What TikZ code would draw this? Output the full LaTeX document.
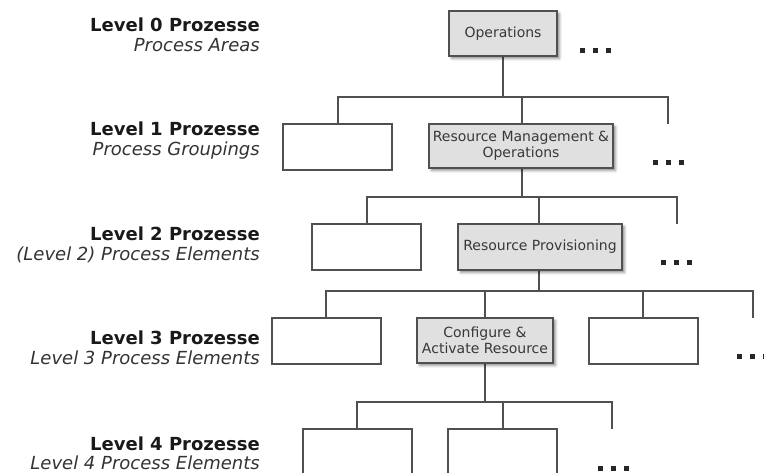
\documentclass[tikz,border=0pt]{standalone}
\usepackage{fontspec}
\setmainfont{DejaVu Sans}
\usetikzlibrary{shadows.blur}
\definecolor{linegray}{HTML}{505050}
\definecolor{boxfill}{HTML}{E0E0E0}
\definecolor{boxtext}{HTML}{383838}
\definecolor{subtext}{HTML}{333333}
\tikzset{
  procbox/.style={draw=linegray, line width=1.3pt, fill=boxfill, text=boxtext,
    align=center, inner sep=1pt, font=\fontsize{14}{16.5}\selectfont,
    blur shadow={shadow xshift=2.5pt, shadow yshift=-2.5pt, shadow blur radius=2.5pt, shadow opacity=45}},
  emptybox/.style={draw=linegray, line width=1.2pt, fill=white, inner sep=0pt},
  link/.style={draw=linegray, line width=1.1pt},
  lvltitle/.style={anchor=base east, inner sep=0pt, font=\fontsize{18}{20}\selectfont\bfseries, text=black!90},
  lvlsub/.style={anchor=base east, inner sep=0pt, font=\fontsize{18}{20}\selectfont\itshape, text=subtext},
  dotsq/.style={fill=black!85, draw=none, minimum size=5pt, inner sep=0pt}
}
% three square dots starting at a given left x, centred on a given y
\newcommand\tridots[3]{%
  \foreach \k in {0,1,2}{\node[dotsq] (#1-\k) at ({#2+2.5+\k*12.8},#3) {};}}
\begin{document}
\begin{tikzpicture}[x=1pt,y=-1pt]
\useasboundingbox (0,0) rectangle (764,473);
\clip (0,0) rectangle (764,473);

% level captions
\node[lvltitle] (t0) at (260,32) {Level 0 Prozesse};
\node[lvlsub]   (s0) at (260,51.5) {Process Areas};
\node[lvltitle] (t1) at (260,136) {Level 1 Prozesse};
\node[lvlsub]   (s1) at (260,155.5) {Process Groupings};
\node[lvltitle] (t2) at (260,241) {Level 2 Prozesse};
\node[lvlsub]   (s2) at (260,260.5) {(Level 2) Process Elements};
\node[lvltitle] (t3) at (260,345) {Level 3 Prozesse};
\node[lvlsub]   (s3) at (260,364.5) {Level 3 Process Elements};
\node[lvltitle] (t4) at (260,450) {Level 4 Prozesse};
\node[lvlsub]   (s4) at (260,469.5) {Level 4 Process Elements};

% junction points and open stubs
\coordinate (j0) at (503,97);
\coordinate (j1) at (522,197);
\coordinate (j2) at (539,291);
\coordinate (j3) at (485,402);
\coordinate (u1) at (668,124);
\coordinate (u2) at (677,224);
\coordinate (u3) at (753,318);
\coordinate (u4) at (612,429);

% connectors (drawn first so boxes sit on top)
\draw[link] (503,56) -- (j0);
\draw[link] (338,124) |- (j0) -| (u1);
\draw[link] (522,97) -- (522,124);
\draw[link] (522,168) -- (j1);
\draw[link] (367,224) |- (j1) -| (u2);
\draw[link] (539,197) -- (539,224);
\draw[link] (539,270) -- (j2);
\draw[link] (326,318) |- (j2) -| (u3);
\draw[link] (485,291) -- (485,318);
\draw[link] (643,291) -- (643,318);
\draw[link] (485,363) -- (j3);
\draw[link] (357,429) |- (j3) -| (u4);
\draw[link] (503,402) -- (503,429);

% level 0
\node[procbox, minimum width=108pt, minimum height=45pt] (op) at (503,33.5) {Operations};
\tridots{d0}{580}{51}

% level 1
\node[emptybox, minimum width=109pt, minimum height=46pt] (g1a) at (337.5,147) {};
\node[procbox, minimum width=184pt, minimum height=44pt] (g1b) at (521,146) {Resource Management \&\\Operations};
\tridots{d1}{653}{163}

% level 2
\node[emptybox, minimum width=109pt, minimum height=46pt] (e2a) at (366.5,247) {};
\node[procbox, minimum width=164pt, minimum height=46pt] (e2b) at (540,247) {Resource Provisioning};
\tridots{d2}{661}{263}

% level 3
\node[emptybox, minimum width=109pt, minimum height=46pt] (e3a) at (326.5,341) {};
\node[procbox, minimum width=136pt, minimum height=45pt] (e3b) at (485,340.5) {Configure \&\\Activate Resource};
\node[emptybox, minimum width=109pt, minimum height=46pt] (e3c) at (643.5,341) {};
\tridots{d3}{737}{357}

% level 4 (boxes run past the lower edge)
\node[emptybox, minimum width=109pt, minimum height=70pt] (e4a) at (357.5,464) {};
\node[emptybox, minimum width=109pt, minimum height=70pt] (e4b) at (502.5,464) {};
\tridots{d4}{598}{468}
\end{tikzpicture}
\end{document}
